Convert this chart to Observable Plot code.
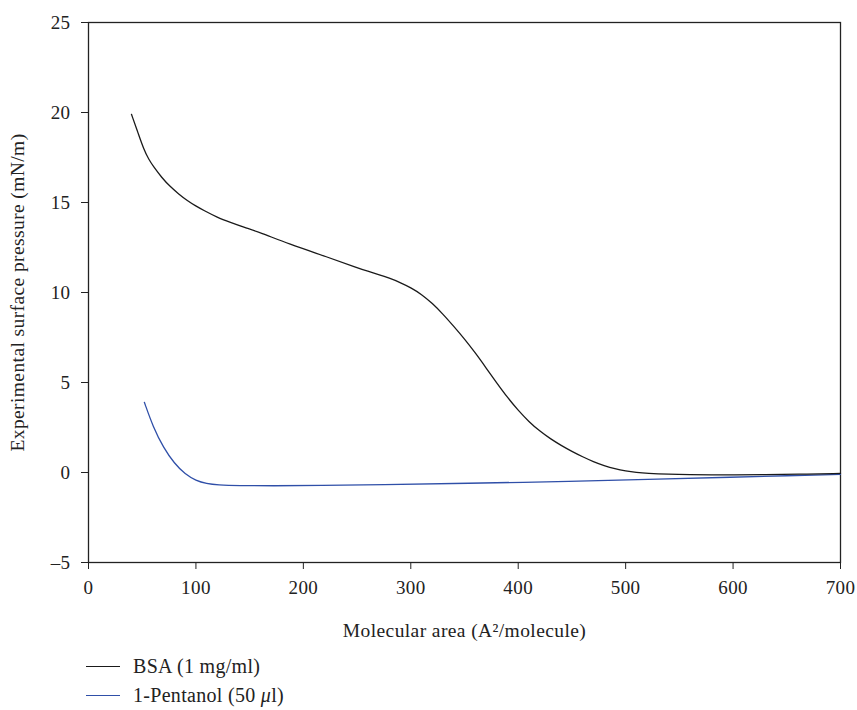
<!DOCTYPE html>
<html>
<head>
<meta charset="utf-8">
<script src="https://cdn.jsdelivr.net/npm/d3@7"></script>
<script src="https://cdn.jsdelivr.net/npm/@observablehq/plot@0.6"></script>
<style>
  body { margin: 0; background: #fff; }
  #chart { position: relative; width: 857px; }
  #chart svg, #chart svg text { font-family: "Liberation Serif", "Times New Roman", "DejaVu Serif", serif !important; }
  #chart svg text { letter-spacing: 0.4px; }
  #chart svg g[aria-label="x-axis tick label"] text, #chart svg g[aria-label="y-axis tick label"] text { font-size: 19px; }
  #chart svg g[aria-label="x-axis label"] text, #chart svg g[aria-label="y-axis label"] text { font-size: 19.5px; }
  .legend { position: relative; margin-left: 86px; font-family: "Liberation Serif", "Times New Roman", "DejaVu Serif", serif; font-size: 20px; letter-spacing: 0.3px; color: #222; }
  .legend .row { display: flex; align-items: center; height: 29px; }
  .legend .sw { width: 34px; height: 0; border-top: 1.3px solid; margin-right: 13px; }
</style>
</head>
<body>
<div id="chart"></div>
<script>
// BSA (1 mg/ml)
const bsaX = [40, 46.5, 51.5, 56, 61, 68, 76, 84, 92, 100, 107, 120, 132, 145, 160, 186, 223, 250, 260, 270, 280, 290, 300, 310, 320, 330, 340, 350, 360, 370, 380, 390, 400, 410, 420, 430, 440, 450, 460, 470, 480, 490, 500, 510, 520, 540, 560, 580, 600, 630, 660, 700];
const bsaY = [19.9, 18.8, 17.95, 17.4, 16.95, 16.4, 15.88, 15.47, 15.1, 14.8, 14.57, 14.17, 13.9, 13.62, 13.33, 12.7, 11.96, 11.38, 11.18, 11.0, 10.8, 10.56, 10.27, 9.9, 9.4, 8.8, 8.12, 7.42, 6.65, 5.82, 4.98, 4.17, 3.45, 2.82, 2.3, 1.87, 1.5, 1.17, 0.87, 0.6, 0.38, 0.2, 0.08, 0.0, -0.05, -0.1, -0.12, -0.13, -0.13, -0.12, -0.1, -0.05];
// 1-Pentanol (50 µl)
const pentX = [52, 60, 70, 80, 90, 100, 110, 120, 140, 170, 216, 272, 350, 450, 532, 600, 650, 700];
const pentY = [3.9, 2.55, 1.35, 0.5, -0.1, -0.45, -0.62, -0.69, -0.73, -0.74, -0.72, -0.68, -0.6, -0.5, -0.36, -0.26, -0.18, -0.1];

const seriesNames = ["BSA (1 mg/ml)", "1-Pentanol (50 ", "\u03bc", "l)"];
const seriesColors = ["#1a1a1a", "#2f4fa8"];
const xTicks = [0, 100, 200, 300, 400, 500, 600, 700];
const yTicks = [-5, 0, 5, 10, 15, 20, 25];

const bsa = bsaX.map((x, i) => ({x, y: bsaY[i]}));
const pent = pentX.map((x, i) => ({x, y: pentY[i]}));

const plot = Plot.plot({
  width: 857,
  height: 646,
  marginLeft: 88,
  marginRight: 17,
  marginTop: 22,
  marginBottom: 84,
  style: {fontFamily: "'Liberation Serif', 'Times New Roman', 'DejaVu Serif', serif", fontSize: "19px", color: "#222", background: "#fff"},
  x: {domain: [0, 700]},
  y: {domain: [-5, 25]},
  marks: [
    Plot.frame({stroke: "#222", strokeWidth: 1.3}),
    Plot.axisX({ticks: xTicks, tickSize: 7, tickPadding: 11, label: "Molecular area (A\u00b2/molecule)", labelAnchor: "center", labelOffset: 74, labelArrow: "none", fontSize: 19, stroke: "#222"}),
    Plot.axisY({ticks: yTicks, tickSize: 7, tickPadding: 11, label: "Experimental surface pressure (mN/m)", labelAnchor: "center", labelOffset: 78, labelArrow: "none", fontSize: 19, stroke: "#222", tickFormat: d => d < 0 ? "\u2013" + Math.abs(d) : String(d)}),
    Plot.line(pent, {x: "x", y: "y", stroke: seriesColors[1], strokeWidth: 1.3, curve: "basis"}),
    Plot.line(bsa, {x: "x", y: "y", stroke: seriesColors[0], strokeWidth: 1.3, curve: "basis"})
  ]
});
document.getElementById("chart").appendChild(plot);

const legend = document.createElement("div");
legend.className = "legend";
legend.style.marginTop = "6px";
const labels = [[seriesNames[0]], [seriesNames[1], seriesNames[2], seriesNames[3]]];
labels.forEach((parts, i) => {
  const row = document.createElement("div");
  row.className = "row";
  const sw = document.createElement("span");
  sw.className = "sw";
  sw.style.borderTopColor = seriesColors[i];
  const t = document.createElement("span");
  parts.forEach((p, j) => {
    if (j === 1) { const it = document.createElement("i"); it.textContent = p; t.appendChild(it); }
    else t.appendChild(document.createTextNode(p));
  });
  row.appendChild(sw);
  row.appendChild(t);
  legend.appendChild(row);
});
document.getElementById("chart").appendChild(legend);
</script>
</body>
</html>
